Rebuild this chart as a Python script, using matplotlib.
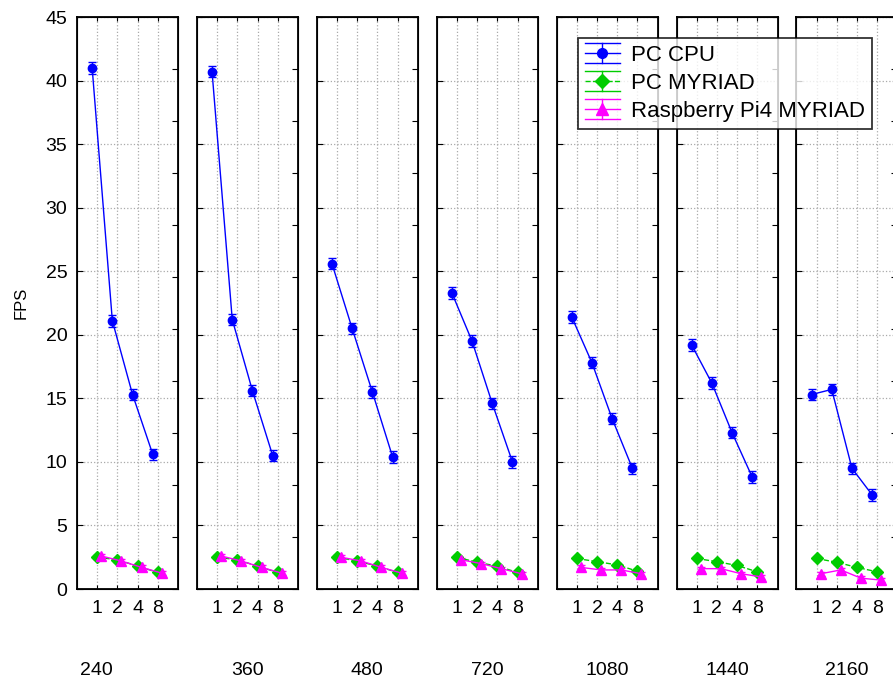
import matplotlib.pyplot as plt
import numpy as np
from matplotlib.lines import Line2D
from matplotlib.legend_handler import HandlerBase
from matplotlib.container import ErrorbarContainer

plt.rcParams['font.family'] = ['Liberation Sans', 'DejaVu Sans']

# Resolutions (one panel each) and thread counts on the x axis
resolutions = ['240', '360', '480', '720', '1080', '1440', '2160']
threads = ['1', '2', '4', '8']

# FPS per resolution, one row per panel
pc_cpu = [
    [41.0, 21.1, 15.3, 10.6],
    [40.7, 21.2, 15.6, 10.5],
    [25.6, 20.5, 15.5, 10.4],
    [23.3, 19.5, 14.6, 10.0],
    [21.4, 17.8, 13.4, 9.5],
    [19.2, 16.2, 12.3, 8.8],
    [15.3, 15.7, 9.5, 7.4],
]
pc_myriad = [
    [2.5, 2.3, 1.8, 1.3],
    [2.5, 2.3, 1.8, 1.3],
    [2.5, 2.2, 1.8, 1.3],
    [2.5, 2.1, 1.8, 1.3],
    [2.4, 2.15, 1.9, 1.4],
    [2.4, 2.15, 1.85, 1.35],
    [2.4, 2.1, 1.7, 1.35],
]
pi4_myriad = [
    [2.6, 2.2, 1.7, 1.25],
    [2.6, 2.2, 1.7, 1.25],
    [2.5, 2.2, 1.7, 1.25],
    [2.3, 2.0, 1.6, 1.2],
    [1.7, 1.5, 1.5, 1.2],
    [1.6, 1.6, 1.2, 0.95],
    [1.2, 1.5, 0.85, 0.7],
]
cpu_err = 0.45
myr_err = 0.15


# legend key: line + marker with full-width error caps
class HandlerCapped(HandlerBase):
    def create_artists(self, legend, orig_handle, xdescent, ydescent,
                       width, height, fontsize, trans):
        ln = orig_handle[0]
        c = ln.get_color()
        x0, x1 = -xdescent, -xdescent + width
        ym = -ydescent + height / 2
        xm = (x0 + x1) / 2
        h = height * 0.62
        arts = [
            Line2D([x0, x1], [ym, ym], color=c, ls=ln.get_linestyle(), lw=1.0),
            Line2D([x0, x1], [ym + h, ym + h], color=c, lw=1.0),
            Line2D([x0, x1], [ym - h, ym - h], color=c, lw=1.0),
            Line2D([xm, xm], [ym - h, ym + h], color=c, lw=1.0),
            Line2D([xm], [ym], color=c, marker=ln.get_marker(), ms=ln.get_markersize() + 1, ls='none'),
        ]
        for a in arts:
            a.set_transform(trans)
        return arts


fig = plt.figure(figsize=(8.93, 6.82), dpi=100)
W, H = 893.0, 682.0

x = np.arange(len(threads))
handles = None
for i, res in enumerate(resolutions):
    left = 77 + 119.9 * i
    ax = fig.add_axes([left / W, 1 - 589 / H, 101 / W, 572 / H])
    h1 = ax.errorbar(x - 0.25, pc_cpu[i], yerr=cpu_err, color='#0000ff', marker='o',
                     ms=6, lw=1.0, capsize=3, elinewidth=1.0, label='PC CPU')
    h2 = ax.errorbar(x, pc_myriad[i], yerr=myr_err, color='#00cc00', marker='D',
                     ms=6, lw=1.0, ls='--', capsize=3, elinewidth=1.0, label='PC MYRIAD')
    h3 = ax.errorbar(x + 0.2, pi4_myriad[i], yerr=myr_err, color='#ff00ff', marker='^',
                     ms=7, lw=1.0, capsize=3, elinewidth=1.0, label='Raspberry Pi4 MYRIAD')
    handles = [h1, h2, h3]
    ax.set_xlim(-1, 4)
    ax.set_ylim(0, 45)
    ax.set_xticks(x)
    ax.set_xticklabels(threads)
    ax.set_yticks(np.arange(0, 46, 5))
    ax.grid(True, ls=':', color='#aaaaaa', lw=0.9)
    ax.tick_params(axis='x', direction='in', top=True, length=3, labelsize=14, pad=8)
    ax.tick_params(axis='y', direction='in', length=4, labelsize=14, pad=7)
    if i > 0:
        ax.tick_params(axis='y', labelleft=False)
    else:
        ax.set_ylabel('FPS', fontsize=12, labelpad=12)
    for sp in ax.spines.values():
        sp.set_linewidth(1.3)
    # right-hand ticks at a finer, separate spacing
    ax2 = ax.twinx()
    ax2.set_ylim(0, 45)
    ax2.set_yticks(np.linspace(0, 45, 12))
    ax2.tick_params(axis='y', direction='in', length=4, labelright=False)
    xt = 0.19 if i == 0 else 0.5
    ax.text(xt, -0.142, res, transform=ax.transAxes, ha='center', va='center', fontsize=14)

leg = fig.legend(handles=handles, loc='upper left', bbox_to_anchor=(578 / W, 1 - 38 / H),
                 fontsize=16, frameon=True, fancybox=False, edgecolor='black',
                 borderpad=0.3, labelspacing=0.32, handlelength=1.6, handletextpad=0.5,
                 borderaxespad=0, handler_map={ErrorbarContainer: HandlerCapped()})
leg.get_frame().set_linewidth(1.3)

fig.savefig('out.png', dpi=100)
